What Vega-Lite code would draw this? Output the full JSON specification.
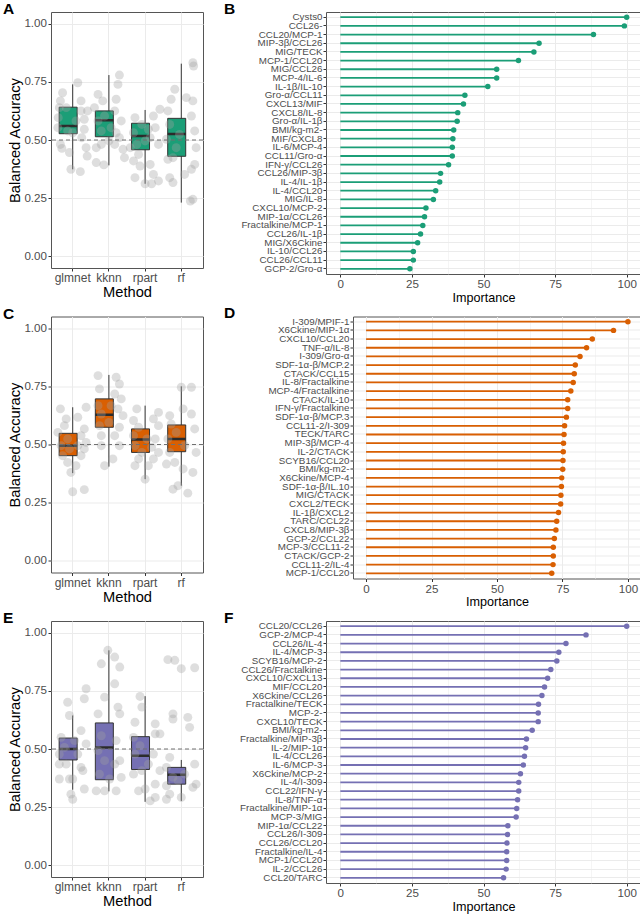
{
  "$schema": "https://vega.github.io/schema/vega-lite/v6.json",
  "background": "white",
  "padding": {"left": 2, "top": 1, "right": 0, "bottom": 0},
  "spacing": 0.5,
  "config": {
    "font": "Liberation Sans",
    "view": {"stroke": "#555555", "strokeWidth": 1},
    "axis": {"gridColor": "#EBEBEB", "gridWidth": 1, "domain": false, "tickColor": "#333333", "tickSize": 3, "labelColor": "#4D4D4D", "labelFontSize": 11.6, "titleColor": "#000000", "titleFontWeight": "normal", "titleFontSize": 14.7, "labelPadding": 1.5, "titlePadding": 1},
    "title": {"anchor": "start", "frame": "group", "fontSize": 15.5, "fontWeight": "bold", "color": "#000000", "offset": -5.5},
    "concat": {"spacing": 19}
  },
  "datasets": {
    "boxA": [
      {"m": "glmnet", "lo": 0.374, "q1": 0.527, "med": 0.56, "q3": 0.641, "hi": 0.739},
      {"m": "kknn", "lo": 0.391, "q1": 0.514, "med": 0.585, "q3": 0.625, "hi": 0.779},
      {"m": "rpart", "lo": 0.312, "q1": 0.458, "med": 0.517, "q3": 0.572, "hi": 0.629},
      {"m": "rf", "lo": 0.231, "q1": 0.43, "med": 0.526, "q3": 0.593, "hi": 0.828}
    ],
    "boxC": [
      {"m": "glmnet", "lo": 0.377, "q1": 0.452, "med": 0.495, "q3": 0.548, "hi": 0.66},
      {"m": "kknn", "lo": 0.405, "q1": 0.574, "med": 0.628, "q3": 0.696, "hi": 0.799},
      {"m": "rpart", "lo": 0.351, "q1": 0.466, "med": 0.521, "q3": 0.567, "hi": 0.667},
      {"m": "rf", "lo": 0.323, "q1": 0.469, "med": 0.524, "q3": 0.584, "hi": 0.75}
    ],
    "boxE": [
      {"m": "glmnet", "lo": 0.325, "q1": 0.453, "med": 0.5, "q3": 0.547, "hi": 0.644},
      {"m": "kknn", "lo": 0.318, "q1": 0.368, "med": 0.506, "q3": 0.612, "hi": 0.924},
      {"m": "rpart", "lo": 0.273, "q1": 0.412, "med": 0.471, "q3": 0.553, "hi": 0.727},
      {"m": "rf", "lo": 0.277, "q1": 0.349, "med": 0.389, "q3": 0.421, "hi": 0.453}
    ],
    "ptsA": [
      {"m": "glmnet", "j": -0.34, "v": 0.668}, {"m": "glmnet", "j": -0.28, "v": 0.703}, {"m": "glmnet", "j": 0.14, "v": 0.746}, {"m": "glmnet", "j": -0.4, "v": 0.596}, {"m": "glmnet", "j": -0.41, "v": 0.553}, {"m": "glmnet", "j": -0.34, "v": 0.481}, {"m": "glmnet", "j": -0.3, "v": 0.464}, {"m": "glmnet", "j": -0.09, "v": 0.446}, {"m": "glmnet", "j": -0.05, "v": 0.374}, {"m": "glmnet", "j": 0.21, "v": 0.364}, {"m": "glmnet", "j": 0.23, "v": 0.668}, {"m": "glmnet", "j": 0.32, "v": 0.546}, {"m": "glmnet", "j": 0.25, "v": 0.51}, {"m": "glmnet", "j": 0.37, "v": 0.467}, {"m": "glmnet", "j": 0.4, "v": 0.431}, {"m": "glmnet", "j": 0.23, "v": 0.625}, {"m": "glmnet", "j": -0.18, "v": 0.639}, {"m": "glmnet", "j": 0.09, "v": 0.582}, {"m": "glmnet", "j": -0.14, "v": 0.539}, {"m": "glmnet", "j": -0.37, "v": 0.639}, {"m": "glmnet", "j": 0.41, "v": 0.625}, {"m": "glmnet", "j": 0.0, "v": 0.531}, {"m": "glmnet", "j": 0.32, "v": 0.589},
      {"m": "kknn", "j": 0.29, "v": 0.779}, {"m": "kknn", "j": 0.25, "v": 0.739}, {"m": "kknn", "j": -0.3, "v": 0.696}, {"m": "kknn", "j": -0.17, "v": 0.668}, {"m": "kknn", "j": 0.2, "v": 0.675}, {"m": "kknn", "j": -0.4, "v": 0.639}, {"m": "kknn", "j": 0.16, "v": 0.625}, {"m": "kknn", "j": -0.3, "v": 0.582}, {"m": "kknn", "j": 0.34, "v": 0.582}, {"m": "kknn", "j": -0.21, "v": 0.539}, {"m": "kknn", "j": 0.2, "v": 0.531}, {"m": "kknn", "j": -0.35, "v": 0.467}, {"m": "kknn", "j": -0.21, "v": 0.481}, {"m": "kknn", "j": 0.16, "v": 0.481}, {"m": "kknn", "j": 0.39, "v": 0.46}, {"m": "kknn", "j": 0.43, "v": 0.424}, {"m": "kknn", "j": -0.14, "v": 0.393}, {"m": "kknn", "j": -0.35, "v": 0.403}, {"m": "kknn", "j": 0.29, "v": 0.51}, {"m": "kknn", "j": 0.0, "v": 0.496}, {"m": "kknn", "j": 0.06, "v": 0.553}, {"m": "kknn", "j": -0.12, "v": 0.603},
      {"m": "rpart", "j": 0.41, "v": 0.632}, {"m": "rpart", "j": -0.28, "v": 0.596}, {"m": "rpart", "j": 0.23, "v": 0.603}, {"m": "rpart", "j": -0.09, "v": 0.567}, {"m": "rpart", "j": 0.28, "v": 0.553}, {"m": "rpart", "j": -0.32, "v": 0.531}, {"m": "rpart", "j": 0.14, "v": 0.51}, {"m": "rpart", "j": -0.23, "v": 0.481}, {"m": "rpart", "j": 0.37, "v": 0.481}, {"m": "rpart", "j": -0.18, "v": 0.438}, {"m": "rpart", "j": -0.32, "v": 0.41}, {"m": "rpart", "j": 0.14, "v": 0.395}, {"m": "rpart", "j": -0.14, "v": 0.388}, {"m": "rpart", "j": -0.28, "v": 0.338}, {"m": "rpart", "j": 0.23, "v": 0.352}, {"m": "rpart", "j": 0.37, "v": 0.324}, {"m": "rpart", "j": 0.0, "v": 0.312}, {"m": "rpart", "j": 0.18, "v": 0.312}, {"m": "rpart", "j": -0.41, "v": 0.467}, {"m": "rpart", "j": 0.0, "v": 0.496}, {"m": "rpart", "j": 0.09, "v": 0.546},
      {"m": "rf", "j": 0.32, "v": 0.832}, {"m": "rf", "j": 0.34, "v": 0.818}, {"m": "rf", "j": -0.18, "v": 0.718}, {"m": "rf", "j": -0.28, "v": 0.675}, {"m": "rf", "j": 0.14, "v": 0.682}, {"m": "rf", "j": 0.32, "v": 0.668}, {"m": "rf", "j": -0.37, "v": 0.625}, {"m": "rf", "j": 0.28, "v": 0.603}, {"m": "rf", "j": -0.32, "v": 0.567}, {"m": "rf", "j": 0.37, "v": 0.539}, {"m": "rf", "j": -0.41, "v": 0.503}, {"m": "rf", "j": 0.41, "v": 0.467}, {"m": "rf", "j": -0.37, "v": 0.417}, {"m": "rf", "j": -0.23, "v": 0.424}, {"m": "rf", "j": 0.37, "v": 0.395}, {"m": "rf", "j": 0.28, "v": 0.374}, {"m": "rf", "j": 0.09, "v": 0.352}, {"m": "rf", "j": -0.32, "v": 0.338}, {"m": "rf", "j": -0.23, "v": 0.317}, {"m": "rf", "j": 0.25, "v": 0.238}, {"m": "rf", "j": 0.32, "v": 0.245}, {"m": "rf", "j": -0.05, "v": 0.524}, {"m": "rf", "j": -0.14, "v": 0.467}
    ],
    "ptsC": [
      {"m": "glmnet", "j": -0.34, "v": 0.653}, {"m": "glmnet", "j": -0.18, "v": 0.61}, {"m": "glmnet", "j": 0.14, "v": 0.617}, {"m": "glmnet", "j": 0.37, "v": 0.66}, {"m": "glmnet", "j": -0.41, "v": 0.552}, {"m": "glmnet", "j": 0.32, "v": 0.567}, {"m": "glmnet", "j": -0.32, "v": 0.495}, {"m": "glmnet", "j": 0.37, "v": 0.509}, {"m": "glmnet", "j": -0.28, "v": 0.452}, {"m": "glmnet", "j": 0.23, "v": 0.452}, {"m": "glmnet", "j": -0.14, "v": 0.423}, {"m": "glmnet", "j": 0.09, "v": 0.409}, {"m": "glmnet", "j": -0.05, "v": 0.38}, {"m": "glmnet", "j": 0.0, "v": 0.297}, {"m": "glmnet", "j": 0.32, "v": 0.306}, {"m": "glmnet", "j": 0.14, "v": 0.495}, {"m": "glmnet", "j": -0.14, "v": 0.524}, {"m": "glmnet", "j": 0.23, "v": 0.538}, {"m": "glmnet", "j": -0.09, "v": 0.481}, {"m": "glmnet", "j": -0.23, "v": 0.581}, {"m": "glmnet", "j": 0.32, "v": 0.481},
      {"m": "kknn", "j": -0.3, "v": 0.796}, {"m": "kknn", "j": 0.2, "v": 0.789}, {"m": "kknn", "j": -0.26, "v": 0.739}, {"m": "kknn", "j": 0.29, "v": 0.76}, {"m": "kknn", "j": 0.16, "v": 0.717}, {"m": "kknn", "j": 0.34, "v": 0.696}, {"m": "kknn", "j": -0.3, "v": 0.667}, {"m": "kknn", "j": 0.25, "v": 0.653}, {"m": "kknn", "j": -0.21, "v": 0.631}, {"m": "kknn", "j": 0.39, "v": 0.624}, {"m": "kknn", "j": 0.29, "v": 0.574}, {"m": "kknn", "j": -0.26, "v": 0.581}, {"m": "kknn", "j": -0.21, "v": 0.538}, {"m": "kknn", "j": 0.16, "v": 0.538}, {"m": "kknn", "j": 0.29, "v": 0.495}, {"m": "kknn", "j": -0.21, "v": 0.495}, {"m": "kknn", "j": 0.11, "v": 0.438}, {"m": "kknn", "j": -0.12, "v": 0.409}, {"m": "kknn", "j": 0.0, "v": 0.595}, {"m": "kknn", "j": 0.06, "v": 0.667},
      {"m": "rpart", "j": -0.23, "v": 0.653}, {"m": "rpart", "j": 0.37, "v": 0.638}, {"m": "rpart", "j": -0.32, "v": 0.603}, {"m": "rpart", "j": 0.23, "v": 0.61}, {"m": "rpart", "j": -0.18, "v": 0.574}, {"m": "rpart", "j": 0.37, "v": 0.581}, {"m": "rpart", "j": -0.32, "v": 0.538}, {"m": "rpart", "j": 0.28, "v": 0.524}, {"m": "rpart", "j": -0.28, "v": 0.495}, {"m": "rpart", "j": 0.18, "v": 0.488}, {"m": "rpart", "j": -0.09, "v": 0.466}, {"m": "rpart", "j": -0.18, "v": 0.438}, {"m": "rpart", "j": 0.23, "v": 0.438}, {"m": "rpart", "j": -0.28, "v": 0.409}, {"m": "rpart", "j": 0.09, "v": 0.409}, {"m": "rpart", "j": 0.0, "v": 0.351}, {"m": "rpart", "j": 0.37, "v": 0.466}, {"m": "rpart", "j": 0.05, "v": 0.524},
      {"m": "rf", "j": 0.28, "v": 0.746}, {"m": "rf", "j": 0.0, "v": 0.746}, {"m": "rf", "j": -0.32, "v": 0.624}, {"m": "rf", "j": 0.05, "v": 0.653}, {"m": "rf", "j": 0.28, "v": 0.631}, {"m": "rf", "j": -0.28, "v": 0.588}, {"m": "rf", "j": 0.37, "v": 0.567}, {"m": "rf", "j": -0.37, "v": 0.524}, {"m": "rf", "j": 0.41, "v": 0.466}, {"m": "rf", "j": -0.32, "v": 0.466}, {"m": "rf", "j": -0.41, "v": 0.416}, {"m": "rf", "j": -0.18, "v": 0.423}, {"m": "rf", "j": 0.05, "v": 0.395}, {"m": "rf", "j": 0.32, "v": 0.38}, {"m": "rf", "j": -0.23, "v": 0.308}, {"m": "rf", "j": -0.09, "v": 0.323}, {"m": "rf", "j": 0.18, "v": 0.291}, {"m": "rf", "j": 0.09, "v": 0.495}, {"m": "rf", "j": -0.14, "v": 0.552}
    ],
    "ptsE": [
      {"m": "glmnet", "j": -0.14, "v": 0.701}, {"m": "glmnet", "j": 0.37, "v": 0.759}, {"m": "glmnet", "j": 0.32, "v": 0.716}, {"m": "glmnet", "j": -0.09, "v": 0.644}, {"m": "glmnet", "j": -0.32, "v": 0.55}, {"m": "glmnet", "j": 0.23, "v": 0.579}, {"m": "glmnet", "j": -0.37, "v": 0.478}, {"m": "glmnet", "j": 0.37, "v": 0.522}, {"m": "glmnet", "j": -0.37, "v": 0.371}, {"m": "glmnet", "j": -0.09, "v": 0.371}, {"m": "glmnet", "j": 0.0, "v": 0.371}, {"m": "glmnet", "j": -0.05, "v": 0.306}, {"m": "glmnet", "j": 0.0, "v": 0.284}, {"m": "glmnet", "j": 0.32, "v": 0.328}, {"m": "glmnet", "j": 0.28, "v": 0.407}, {"m": "glmnet", "j": -0.18, "v": 0.435}, {"m": "glmnet", "j": 0.14, "v": 0.478}, {"m": "glmnet", "j": -0.23, "v": 0.507}, {"m": "glmnet", "j": 0.05, "v": 0.536}, {"m": "glmnet", "j": 0.23, "v": 0.421}, {"m": "glmnet", "j": -0.37, "v": 0.435},
      {"m": "kknn", "j": -0.03, "v": 0.924}, {"m": "kknn", "j": 0.16, "v": 0.895}, {"m": "kknn", "j": -0.21, "v": 0.866}, {"m": "kknn", "j": 0.3, "v": 0.852}, {"m": "kknn", "j": 0.16, "v": 0.78}, {"m": "kknn", "j": -0.12, "v": 0.723}, {"m": "kknn", "j": -0.3, "v": 0.651}, {"m": "kknn", "j": 0.25, "v": 0.68}, {"m": "kknn", "j": 0.3, "v": 0.651}, {"m": "kknn", "j": -0.21, "v": 0.557}, {"m": "kknn", "j": 0.2, "v": 0.536}, {"m": "kknn", "j": -0.3, "v": 0.493}, {"m": "kknn", "j": -0.12, "v": 0.45}, {"m": "kknn", "j": 0.16, "v": 0.435}, {"m": "kknn", "j": -0.26, "v": 0.392}, {"m": "kknn", "j": 0.34, "v": 0.378}, {"m": "kknn", "j": -0.35, "v": 0.32}, {"m": "kknn", "j": 0.2, "v": 0.32}, {"m": "kknn", "j": 0.02, "v": 0.371}, {"m": "kknn", "j": -0.12, "v": 0.32}, {"m": "kknn", "j": 0.3, "v": 0.45},
      {"m": "rpart", "j": -0.14, "v": 0.726}, {"m": "rpart", "j": -0.09, "v": 0.68}, {"m": "rpart", "j": -0.28, "v": 0.615}, {"m": "rpart", "j": 0.28, "v": 0.608}, {"m": "rpart", "j": -0.32, "v": 0.55}, {"m": "rpart", "j": 0.28, "v": 0.565}, {"m": "rpart", "j": 0.41, "v": 0.565}, {"m": "rpart", "j": -0.28, "v": 0.478}, {"m": "rpart", "j": 0.23, "v": 0.478}, {"m": "rpart", "j": -0.32, "v": 0.392}, {"m": "rpart", "j": -0.09, "v": 0.407}, {"m": "rpart", "j": 0.28, "v": 0.349}, {"m": "rpart", "j": 0.41, "v": 0.407}, {"m": "rpart", "j": 0.0, "v": 0.328}, {"m": "rpart", "j": 0.14, "v": 0.277}, {"m": "rpart", "j": 0.28, "v": 0.292}, {"m": "rpart", "j": -0.18, "v": 0.32}, {"m": "rpart", "j": 0.09, "v": 0.435}, {"m": "rpart", "j": -0.14, "v": 0.514},
      {"m": "rf", "j": -0.37, "v": 0.884}, {"m": "rf", "j": -0.18, "v": 0.881}, {"m": "rf", "j": 0.0, "v": 0.845}, {"m": "rf", "j": 0.37, "v": 0.849}, {"m": "rf", "j": -0.23, "v": 0.651}, {"m": "rf", "j": -0.23, "v": 0.629}, {"m": "rf", "j": 0.18, "v": 0.636}, {"m": "rf", "j": 0.23, "v": 0.593}, {"m": "rf", "j": -0.32, "v": 0.464}, {"m": "rf", "j": 0.37, "v": 0.435}, {"m": "rf", "j": -0.41, "v": 0.421}, {"m": "rf", "j": -0.23, "v": 0.378}, {"m": "rf", "j": 0.41, "v": 0.349}, {"m": "rf", "j": -0.41, "v": 0.342}, {"m": "rf", "j": -0.32, "v": 0.306}, {"m": "rf", "j": -0.41, "v": 0.284}, {"m": "rf", "j": 0.0, "v": 0.292}, {"m": "rf", "j": 0.32, "v": 0.335}, {"m": "rf", "j": 0.09, "v": 0.392}, {"m": "rf", "j": -0.09, "v": 0.364}
    ],
    "impB": [
      {"f": "Cysts0", "imp": 100}, {"f": "CCL26-", "imp": 99.2}, {"f": "CCL20/MCP-1", "imp": 88.4}, {"f": "MIP-3β/CCL26", "imp": 69.4}, {"f": "MIG/TECK", "imp": 67.6}, {"f": "MCP-1/CCL20", "imp": 62.2}, {"f": "MIG/CCL26", "imp": 54.6}, {"f": "MCP-4/IL-6", "imp": 54.6}, {"f": "IL-1β/IL-10", "imp": 51.5}, {"f": "Gro-α/CCL11", "imp": 43.5}, {"f": "CXCL13/MIF", "imp": 43.0}, {"f": "CXCL8/IL-8", "imp": 41.0}, {"f": "Gro-α/IL-1β", "imp": 40.8}, {"f": "BMI/kg-m2-", "imp": 39.6}, {"f": "MIF/CXCL8", "imp": 39.3}, {"f": "IL-6/MCP-4", "imp": 39.1}, {"f": "CCL11/Gro-α", "imp": 39.1}, {"f": "IFN-γ/CCL26", "imp": 37.8}, {"f": "CCL26/MIP-3β", "imp": 35.0}, {"f": "IL-4/IL-1β", "imp": 34.7}, {"f": "IL-4/CCL20", "imp": 33.3}, {"f": "MIG/IL-8", "imp": 32.5}, {"f": "CXCL10/MCP-2", "imp": 29.9}, {"f": "MIP-1α/CCL26", "imp": 29.4}, {"f": "Fractalkine/MCP-1", "imp": 28.8}, {"f": "CCL26/IL-1β", "imp": 28.0}, {"f": "MIG/X6Ckine", "imp": 27.0}, {"f": "IL-10/CCL26", "imp": 25.5}, {"f": "CCL26/CCL11", "imp": 25.5}, {"f": "GCP-2/Gro-α", "imp": 24.3}
    ],
    "impD": [
      {"f": "I-309/MPIF-1", "imp": 100}, {"f": "X6Ckine/MIP-1α", "imp": 94.5}, {"f": "CXCL10/CCL20", "imp": 86.4}, {"f": "TNF-α/IL-8", "imp": 84.2}, {"f": "I-309/Gro-α", "imp": 81.7}, {"f": "SDF-1α-β/MCP.2", "imp": 79.9}, {"f": "CTACK/CCL15", "imp": 79.5}, {"f": "IL-8/Fractalkine", "imp": 79.1}, {"f": "MCP-4/Fractalkine", "imp": 78.2}, {"f": "CTACK/IL-10", "imp": 77.0}, {"f": "IFN-γ/Fractalkine", "imp": 77.0}, {"f": "SDF-1α-β/MCP.3", "imp": 76.5}, {"f": "CCL11-2/I-309", "imp": 75.8}, {"f": "TECK/TARC", "imp": 75.6}, {"f": "MIP-3β/MCP-4", "imp": 75.4}, {"f": "IL-2/CTACK", "imp": 75.3}, {"f": "SCYB16/CCL20", "imp": 75.2}, {"f": "BMI/kg-m2-", "imp": 75.1}, {"f": "X6Ckine/MCP-4", "imp": 74.7}, {"f": "SDF-1α-β/IL.10", "imp": 74.6}, {"f": "MIG/CTACK", "imp": 74.4}, {"f": "CXCL2/TECK", "imp": 74.3}, {"f": "IL-1β/CXCL2", "imp": 73.5}, {"f": "TARC/CCL22", "imp": 72.8}, {"f": "CXCL8/MIP-3β", "imp": 72.5}, {"f": "GCP-2/CCL22", "imp": 71.9}, {"f": "MCP-3/CCL11-2", "imp": 71.5}, {"f": "CTACK/GCP-2", "imp": 71.5}, {"f": "CCL11-2/IL-4", "imp": 71.4}, {"f": "MCP-1/CCL20", "imp": 70.9}
    ],
    "impF": [
      {"f": "CCL20/CCL26", "imp": 100}, {"f": "GCP-2/MCP-4", "imp": 85.8}, {"f": "CCL26/IL-4", "imp": 78.8}, {"f": "IL-4/MCP-3", "imp": 76.3}, {"f": "SCYB16/MCP-2", "imp": 75.6}, {"f": "CCL26/Fractalkine", "imp": 73.5}, {"f": "CXCL10/CXCL13", "imp": 72.4}, {"f": "MIF/CCL20", "imp": 71.3}, {"f": "X6Ckine/CCL26", "imp": 70.4}, {"f": "Fractalkine/TECK", "imp": 69.2}, {"f": "MCP-2-", "imp": 69.1}, {"f": "CXCL10/TECK", "imp": 69.1}, {"f": "BMI/kg-m2-", "imp": 67.0}, {"f": "Fractalkine/MIP-3β", "imp": 65.0}, {"f": "IL-2/MIP-1α", "imp": 64.7}, {"f": "IL-4/CCL26", "imp": 64.3}, {"f": "IL-6/MCP-3", "imp": 63.9}, {"f": "X6Ckine/MCP-2", "imp": 62.9}, {"f": "IL-4/I-309", "imp": 62.3}, {"f": "CCL22/IFN-γ", "imp": 62.3}, {"f": "IL-8/TNF-α", "imp": 61.9}, {"f": "Fractalkine/MIP-1α", "imp": 61.6}, {"f": "MCP-3/MIG", "imp": 61.4}, {"f": "MIP-1α/CCL22", "imp": 58.5}, {"f": "CCL26/I-309", "imp": 58.4}, {"f": "CCL26/CCL20", "imp": 58.2}, {"f": "Fractalkine/IL-4", "imp": 58.1}, {"f": "MCP-1/CCL20", "imp": 58.1}, {"f": "IL-2/CCL26", "imp": 57.9}, {"f": "CCL20/TARC", "imp": 57.0}
    ]
  },
  "vconcat": [
    {
      "hconcat": [
        {
          "title": {"text": "A", "dx": -48},
          "width": 152, "height": 256,
          "layer": [
            {"data": {"name": "boxA"}, "mark": {"type": "rule", "color": "#333333", "strokeWidth": 1}, "encoding": {
              "x": {"field": "m", "type": "nominal", "title": "Method", "scale": {"type": "band", "domain": ["glmnet", "kknn", "rpart", "rf"], "paddingInner": 0, "paddingOuter": 0.1}, "axis": {"labelAngle": 0, "bandPosition": 0.5, "grid": true, "labelFontSize": 12}},
              "y": {"field": "lo", "type": "quantitative", "title": "Balanced Accuracy", "scale": {"domain": [-0.05, 1.05], "nice": false, "zero": false}, "axis": {"values": [0, 0.125, 0.25, 0.375, 0.5, 0.625, 0.75, 0.875, 1], "labelExpr": "(datum.value*4) % 1 === 0 ? format(datum.value, '.2f') : ''", "tickOpacity": {"condition": {"test": "(datum.value*4) % 1 !== 0", "value": 0}, "value": 1}, "gridWidth": {"condition": {"test": "(datum.value*4) % 1 !== 0", "value": 0.5}, "value": 1}}},
              "y2": {"field": "hi"}}},
            {"data": {"name": "boxA"}, "mark": {"type": "bar", "width": {"band": 0.75}, "fill": "#1B9E77", "stroke": "#333333", "strokeWidth": 1}, "encoding": {
              "x": {"field": "m", "type": "nominal", "title": "Method"},
              "y": {"field": "q1", "type": "quantitative", "title": "Balanced Accuracy"}, "y2": {"field": "q3"}}},
            {"data": {"name": "boxA"}, "mark": {"type": "bar", "width": {"band": 0.75}, "fill": null, "stroke": "#2b2b2b", "strokeWidth": 2.5}, "encoding": {
              "x": {"field": "m", "type": "nominal", "title": "Method"},
              "y": {"field": "med", "type": "quantitative", "title": "Balanced Accuracy"}, "y2": {"field": "med"}}},
            {"data": {"name": "ptsA"}, "mark": {"type": "circle", "size": 80, "color": "#a0a0a0", "opacity": 0.35}, "encoding": {
              "x": {"field": "m", "type": "nominal", "title": "Method"},
              "xOffset": {"field": "j", "type": "quantitative", "scale": {"domain": [-0.5, 0.5]}},
              "y": {"field": "v", "type": "quantitative", "title": "Balanced Accuracy"}}},
            {"data": {"values": [{}]}, "mark": {"type": "rule", "color": "#707070", "strokeDash": [4, 3], "strokeWidth": 1}, "encoding": {"y": {"datum": 0.5}}}
          ]
        },
        {
          "title": {"text": "B", "dx": -102},
          "width": 315, "height": 262,
          "data": {"name": "impB"},
          "encoding": {
            "y": {"field": "f", "type": "nominal", "sort": null, "title": null, "scale": {"type": "band", "paddingInner": 0, "paddingOuter": 0.1}, "axis": {"labelFontSize": 9.8, "bandPosition": 0.5, "grid": true, "labelPadding": 1}},
            "x": {"field": "imp", "type": "quantitative", "title": "Importance", "scale": {"domain": [-5, 105], "nice": false, "zero": false}, "axis": {"titleFontSize": 12.6, "values": [0, 12.5, 25, 37.5, 50, 62.5, 75, 87.5, 100], "labelExpr": "datum.value % 25 === 0 ? format(datum.value, 'd') : ''", "tickOpacity": {"condition": {"test": "datum.value % 25 !== 0", "value": 0}, "value": 1}, "gridWidth": {"condition": {"test": "datum.value % 25 !== 0", "value": 0.5}, "value": 1}}}
          },
          "layer": [
            {"mark": {"type": "rule", "color": "#1B9E77", "strokeWidth": 1.8}, "encoding": {"x2": {"datum": 0}}},
            {"mark": {"type": "circle", "size": 30, "opacity": 1, "color": "#1B9E77"}}
          ]
        }
      ]
    },
    {
      "hconcat": [
        {
          "title": {"text": "C", "dx": -48},
          "width": 152, "height": 256,
          "layer": [
            {"data": {"name": "boxC"}, "mark": {"type": "rule", "color": "#333333", "strokeWidth": 1}, "encoding": {
              "x": {"field": "m", "type": "nominal", "title": "Method", "scale": {"type": "band", "domain": ["glmnet", "kknn", "rpart", "rf"], "paddingInner": 0, "paddingOuter": 0.1}, "axis": {"labelAngle": 0, "bandPosition": 0.5, "grid": true, "labelFontSize": 12}},
              "y": {"field": "lo", "type": "quantitative", "title": "Balanced Accuracy", "scale": {"domain": [-0.05, 1.05], "nice": false, "zero": false}, "axis": {"values": [0, 0.125, 0.25, 0.375, 0.5, 0.625, 0.75, 0.875, 1], "labelExpr": "(datum.value*4) % 1 === 0 ? format(datum.value, '.2f') : ''", "tickOpacity": {"condition": {"test": "(datum.value*4) % 1 !== 0", "value": 0}, "value": 1}, "gridWidth": {"condition": {"test": "(datum.value*4) % 1 !== 0", "value": 0.5}, "value": 1}}},
              "y2": {"field": "hi"}}},
            {"data": {"name": "boxC"}, "mark": {"type": "bar", "width": {"band": 0.75}, "fill": "#D95F02", "stroke": "#333333", "strokeWidth": 1}, "encoding": {
              "x": {"field": "m", "type": "nominal", "title": "Method"},
              "y": {"field": "q1", "type": "quantitative", "title": "Balanced Accuracy"}, "y2": {"field": "q3"}}},
            {"data": {"name": "boxC"}, "mark": {"type": "bar", "width": {"band": 0.75}, "fill": null, "stroke": "#2b2b2b", "strokeWidth": 2.5}, "encoding": {
              "x": {"field": "m", "type": "nominal", "title": "Method"},
              "y": {"field": "med", "type": "quantitative", "title": "Balanced Accuracy"}, "y2": {"field": "med"}}},
            {"data": {"name": "ptsC"}, "mark": {"type": "circle", "size": 80, "color": "#a0a0a0", "opacity": 0.35}, "encoding": {
              "x": {"field": "m", "type": "nominal", "title": "Method"},
              "xOffset": {"field": "j", "type": "quantitative", "scale": {"domain": [-0.5, 0.5]}},
              "y": {"field": "v", "type": "quantitative", "title": "Balanced Accuracy"}}},
            {"data": {"values": [{}]}, "mark": {"type": "rule", "color": "#707070", "strokeDash": [4, 3], "strokeWidth": 1}, "encoding": {"y": {"datum": 0.5}}}
          ]
        },
        {
          "title": {"text": "D", "dx": -129},
          "width": 288, "height": 262,
          "data": {"name": "impD"},
          "encoding": {
            "y": {"field": "f", "type": "nominal", "sort": null, "title": null, "scale": {"type": "band", "paddingInner": 0, "paddingOuter": 0.1}, "axis": {"labelFontSize": 9.8, "bandPosition": 0.5, "grid": true, "labelPadding": 1}},
            "x": {"field": "imp", "type": "quantitative", "title": "Importance", "scale": {"domain": [-5, 105], "nice": false, "zero": false}, "axis": {"titleFontSize": 12.6, "values": [0, 12.5, 25, 37.5, 50, 62.5, 75, 87.5, 100], "labelExpr": "datum.value % 25 === 0 ? format(datum.value, 'd') : ''", "tickOpacity": {"condition": {"test": "datum.value % 25 !== 0", "value": 0}, "value": 1}, "gridWidth": {"condition": {"test": "datum.value % 25 !== 0", "value": 0.5}, "value": 1}}}
          },
          "layer": [
            {"mark": {"type": "rule", "color": "#D95F02", "strokeWidth": 1.8}, "encoding": {"x2": {"datum": 0}}},
            {"mark": {"type": "circle", "size": 30, "opacity": 1, "color": "#D95F02"}}
          ]
        }
      ]
    },
    {
      "hconcat": [
        {
          "title": {"text": "E", "dx": -48},
          "width": 152, "height": 256,
          "layer": [
            {"data": {"name": "boxE"}, "mark": {"type": "rule", "color": "#333333", "strokeWidth": 1}, "encoding": {
              "x": {"field": "m", "type": "nominal", "title": "Method", "scale": {"type": "band", "domain": ["glmnet", "kknn", "rpart", "rf"], "paddingInner": 0, "paddingOuter": 0.1}, "axis": {"labelAngle": 0, "bandPosition": 0.5, "grid": true, "labelFontSize": 12}},
              "y": {"field": "lo", "type": "quantitative", "title": "Balanced Accuracy", "scale": {"domain": [-0.05, 1.05], "nice": false, "zero": false}, "axis": {"values": [0, 0.125, 0.25, 0.375, 0.5, 0.625, 0.75, 0.875, 1], "labelExpr": "(datum.value*4) % 1 === 0 ? format(datum.value, '.2f') : ''", "tickOpacity": {"condition": {"test": "(datum.value*4) % 1 !== 0", "value": 0}, "value": 1}, "gridWidth": {"condition": {"test": "(datum.value*4) % 1 !== 0", "value": 0.5}, "value": 1}}},
              "y2": {"field": "hi"}}},
            {"data": {"name": "boxE"}, "mark": {"type": "bar", "width": {"band": 0.75}, "fill": "#7570B3", "stroke": "#333333", "strokeWidth": 1}, "encoding": {
              "x": {"field": "m", "type": "nominal", "title": "Method"},
              "y": {"field": "q1", "type": "quantitative", "title": "Balanced Accuracy"}, "y2": {"field": "q3"}}},
            {"data": {"name": "boxE"}, "mark": {"type": "bar", "width": {"band": 0.75}, "fill": null, "stroke": "#2b2b2b", "strokeWidth": 2.5}, "encoding": {
              "x": {"field": "m", "type": "nominal", "title": "Method"},
              "y": {"field": "med", "type": "quantitative", "title": "Balanced Accuracy"}, "y2": {"field": "med"}}},
            {"data": {"name": "ptsE"}, "mark": {"type": "circle", "size": 80, "color": "#a0a0a0", "opacity": 0.35}, "encoding": {
              "x": {"field": "m", "type": "nominal", "title": "Method"},
              "xOffset": {"field": "j", "type": "quantitative", "scale": {"domain": [-0.5, 0.5]}},
              "y": {"field": "v", "type": "quantitative", "title": "Balanced Accuracy"}}},
            {"data": {"values": [{}]}, "mark": {"type": "rule", "color": "#707070", "strokeDash": [4, 3], "strokeWidth": 1}, "encoding": {"y": {"datum": 0.5}}}
          ]
        },
        {
          "title": {"text": "F", "dx": -102},
          "width": 315, "height": 262,
          "data": {"name": "impF"},
          "encoding": {
            "y": {"field": "f", "type": "nominal", "sort": null, "title": null, "scale": {"type": "band", "paddingInner": 0, "paddingOuter": 0.1}, "axis": {"labelFontSize": 9.8, "bandPosition": 0.5, "grid": true, "labelPadding": 1}},
            "x": {"field": "imp", "type": "quantitative", "title": "Importance", "scale": {"domain": [-5, 105], "nice": false, "zero": false}, "axis": {"titleFontSize": 12.6, "values": [0, 12.5, 25, 37.5, 50, 62.5, 75, 87.5, 100], "labelExpr": "datum.value % 25 === 0 ? format(datum.value, 'd') : ''", "tickOpacity": {"condition": {"test": "datum.value % 25 !== 0", "value": 0}, "value": 1}, "gridWidth": {"condition": {"test": "datum.value % 25 !== 0", "value": 0.5}, "value": 1}}}
          },
          "layer": [
            {"mark": {"type": "rule", "color": "#7570B3", "strokeWidth": 1.8}, "encoding": {"x2": {"datum": 0}}},
            {"mark": {"type": "circle", "size": 30, "opacity": 1, "color": "#7570B3"}}
          ]
        }
      ]
    }
  ]
}
